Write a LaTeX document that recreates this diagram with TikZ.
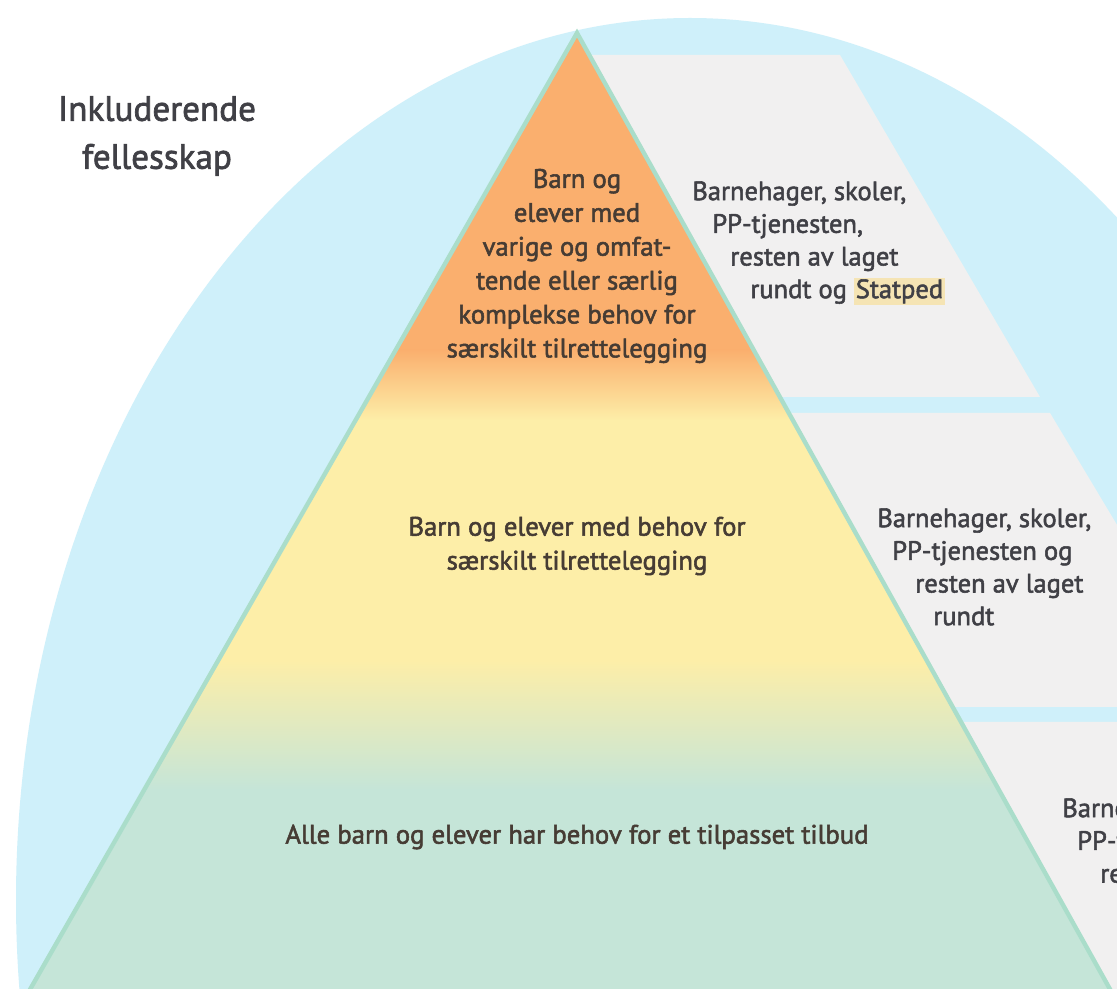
\documentclass[tikz,border=0pt]{standalone}
\usepackage{fontspec}
\setmainfont{PT Sans}[FakeBold=2]
\definecolor{arcblue}{RGB}{207,240,250}
\definecolor{toporange}{RGB}{250,175,110}
\definecolor{midyellow}{RGB}{253,238,168}
\definecolor{basegreen}{RGB}{197,229,216}
\definecolor{edgeteal}{RGB}{170,221,202}
\definecolor{panelgrey}{RGB}{241,240,240}
\definecolor{inkbrown}{RGB}{70,60,52}
\definecolor{inkgrey}{RGB}{64,64,70}
\definecolor{statpedbg}{RGB}{245,228,180}
\setlength{\fboxsep}{1pt}
\begin{document}
\begin{tikzpicture}[x=0.02cm,y=-0.02cm,
  pyrtext/.style={align=center,text=inkbrown,font=\fontsize{15.2}{19.3}\selectfont},
  paneltext/.style={align=left,anchor=north west,inner sep=0pt,text=inkgrey,font=\fontsize{15.1}{18.6}\selectfont},
  panel/.style={fill=panelgrey}]
\useasboundingbox (0,0) rectangle (1117,989);
\clip (0,0) rectangle (1117,989);
\fill[white] (0,0) rectangle (1117,989);

% arc behind everything
\fill[arcblue] (690,900) ellipse [x radius=674, y radius=882];

% grey panels on the right
\fill[panel] (589,55) -- (840,55) -- (1040,397) -- (780,397) -- cycle;
\fill[panel] (789,413) -- (1050,413) -- (1226,707) -- (953,707) -- cycle;
\fill[panel] (961,722) -- (1250,722) -- (1250,1000) -- (1116,1000) -- cycle;

% pyramid
\coordinate (apex) at (577,33);
\coordinate (bl) at (24,1000);
\coordinate (br) at (1116,1000);
\begin{scope}
\clip (apex) -- (bl) -- (br) -- cycle;
\fill[toporange] (0,0) rectangle (1117,350);
\shade[top color=toporange,bottom color=midyellow] (0,350) rectangle (1117,420);
\fill[midyellow] (0,420) rectangle (1117,660);
\shade[top color=midyellow,bottom color=basegreen] (0,660) rectangle (1117,790);
\fill[basegreen] (0,790) rectangle (1117,1000);
\end{scope}
\draw[edgeteal,line width=2.5pt,line join=miter] (apex) -- (bl) -- (br) -- cycle;

\node[align=center,text=inkgrey,font=\fontsize{20}{27.3}\selectfont] (community) at (157,136) {Inkluderende\\fellesskap};

\node[pyrtext] (special) at (577,266) {Barn og\\elever med\\varige og omfat-\\tende eller særlig\\komplekse behov for\\særskilt tilrettelegging};
\node[pyrtext] (adapted) at (577,546) {Barn og elever med behov for\\særskilt tilrettelegging};
\node[pyrtext] (general) at (577,837) {Alle barn og elever har behov for et tilpasset tilbud};

\node[paneltext] (support1) at (692,181) {Barnehager, skoler,\\\hspace*{11.4pt}PP-tjenesten,\\\hspace*{21.6pt}resten av laget\\\hspace*{33pt}rundt og \colorbox{statpedbg}{Statped}};
\node[paneltext] (support2) at (877,508) {Barnehager, skoler,\\\hspace*{8.5pt}PP-tjenesten og\\\hspace*{21.6pt}resten av laget\\\hspace*{31.8pt}rundt};
\node[paneltext] (support3) at (1062,798) {Barnehager, skoler,\\\hspace*{8.5pt}PP-tjenesten og\\\hspace*{21.6pt}resten av laget\\\hspace*{31.8pt}rundt};
\end{tikzpicture}
\end{document}
